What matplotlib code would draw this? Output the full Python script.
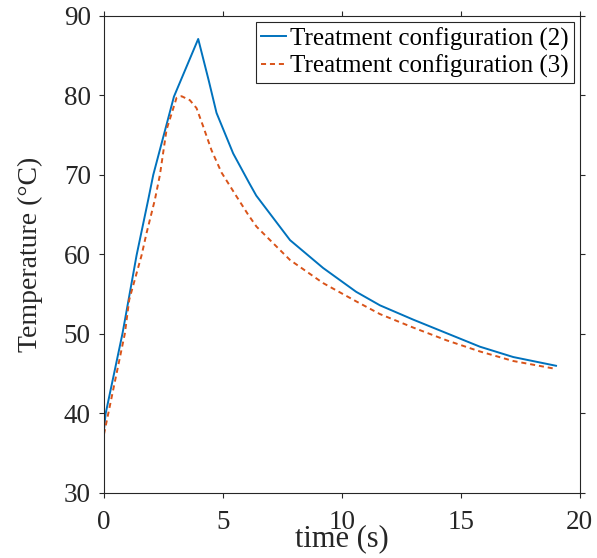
import matplotlib
matplotlib.use("Agg")
import matplotlib.pyplot as plt

t_cfg2 = [0, 0.07, 0.78, 1.37, 1.86, 2.07, 2.94, 3.96, 4.4, 4.73, 5.43, 6.1, 6.4,
          7.82, 9.21, 10.6, 11.6, 13.0, 14.4, 15.8, 17.2, 19.0]
T_cfg2 = [38.0, 40.0, 50.1, 59.9, 66.9, 70.0, 79.85, 87.1, 81.9, 77.8, 72.7, 69.0, 67.4,
          61.8, 58.3, 55.3, 53.6, 51.8, 50.1, 48.4, 47.1, 46.0]

t_cfg3 = [0, 0.18, 0.88, 1.06, 1.58, 1.79, 2.14, 2.35, 2.63, 3.05, 3.26, 3.61, 3.89,
          4.17, 4.52, 4.94, 5.57, 6.06, 6.41, 7.82, 9.21, 10.6, 11.6, 13.0, 14.4,
          15.8, 17.2, 19.0]
T_cfg3 = [37.4, 40.0, 50.1, 54.3, 59.9, 62.7, 66.9, 70.0, 75.7, 79.7, 79.9, 79.4, 78.4,
          76.1, 73.1, 70.3, 67.3, 65.0, 63.5, 59.3, 56.4, 54.1, 52.5, 50.8, 49.2,
          47.8, 46.6, 45.6]

labels = ["Treatment configuration (2)", "Treatment configuration (3)"]

plt.rcParams['font.family'] = ['Liberation Serif', 'DejaVu Serif']
ax_col = (0.15, 0.15, 0.15)

fig = plt.figure(figsize=(5.97, 5.58), dpi=100)
ax = fig.add_axes([0.1742, 0.1165, 0.797, 0.855])

ax.plot(t_cfg2, T_cfg2, '-', color=(0, 0.447, 0.741), lw=1.4, label=labels[0])
ax.plot(t_cfg3, T_cfg3, '--', color=(0.85, 0.325, 0.098), lw=1.4,
        dashes=(2.6, 2.0), label=labels[1])

ax.set_xlim(0, 20)
ax.set_ylim(30, 90)
ax.set_xticks([0, 5, 10, 15, 20])
ax.set_yticks([30, 40, 50, 60, 70, 80, 90])
ax.tick_params(direction='out', length=3.5, width=0.8, top=True, right=True,
               labelsize=19.5, colors=ax_col)
ax.tick_params(axis='x', pad=9)
ax.tick_params(axis='y', pad=6)
for s in ax.spines.values():
    s.set_color(ax_col)
    s.set_linewidth(0.8)

ax.set_xlabel("time (s)", fontsize=22, color=ax_col, labelpad=-8)
ax.set_ylabel("Temperature (°C)", fontsize=20, color=ax_col, labelpad=15)

leg = ax.legend(loc='upper right', fontsize=18, fancybox=False, framealpha=1,
                edgecolor=(0.15, 0.15, 0.15), handlelength=1.0, handletextpad=0.15,
                borderaxespad=0.25, borderpad=0.2, labelspacing=0.15)
leg.get_frame().set_linewidth(0.8)

fig.savefig("out.png", dpi=100)
